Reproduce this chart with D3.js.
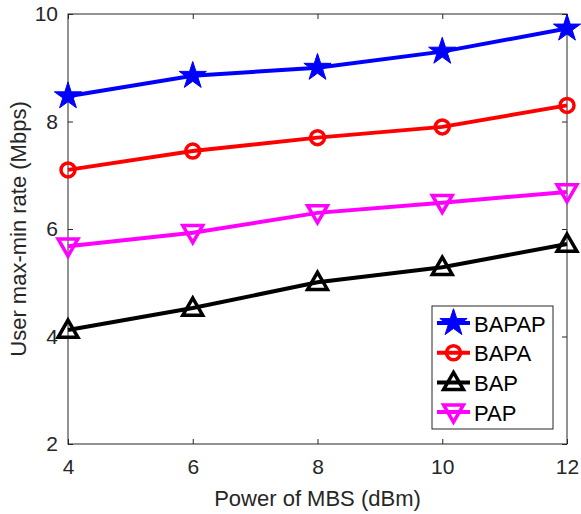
<!DOCTYPE html>
<html>
<head>
<meta charset="utf-8">
<script src="https://cdn.jsdelivr.net/npm/d3@7"></script>
<style>
body { margin: 0; background: #fff; }
text { font-family: Arial, "Liberation Sans", Helvetica, sans-serif; }
</style>
</head>
<body>
<div id="chart"></div>
<script>
var powers = [4, 6, 8, 10, 12];
var xTicks = [4, 6, 8, 10, 12];
var yTicks = [2, 4, 6, 8, 10];
var names = ["BAPAP", "BAPA", "BAP", "PAP"];
var bapap = [8.47, 8.85, 9.0, 9.3, 9.73];
var bapa = [7.1, 7.45, 7.7, 7.9, 8.3];
var bap = [4.12, 4.53, 5.01, 5.29, 5.72];
var pap = [5.68, 5.93, 6.3, 6.49, 6.69];

var series = [
  {name: names[0], values: bapap, color: "#0000ff", marker: "star"},
  {name: names[1], values: bapa, color: "#ff0000", marker: "circle"},
  {name: names[2], values: bap, color: "#000000", marker: "up"},
  {name: names[3], values: pap, color: "#ff00ff", marker: "down"}
];

var W = 581, H = 514;
var m = {left: 68, top: 14, right: 14, bottom: 70};

var svg = d3.select("#chart").append("svg").attr("width", W).attr("height", H);

var x = d3.scaleLinear().domain([4, 12]).range([m.left, W - m.right]);
var y = d3.scaleLinear().domain([2, 10]).range([H - m.bottom, m.top]);

var axisColor = "#262626";

// box
svg.append("rect")
  .attr("x", x(4)).attr("y", y(10))
  .attr("width", x(12) - x(4)).attr("height", y(2) - y(10))
  .attr("fill", "none").attr("stroke", axisColor).attr("stroke-width", 1);

function styleAxis(g) {
  g.select(".domain").remove();
  g.selectAll(".tick line").attr("stroke", axisColor);
  g.selectAll(".tick text").attr("fill", axisColor).style("font-size", "21px");
}

svg.append("g").attr("transform", "translate(0," + y(2) + ")")
  .call(d3.axisBottom(x).tickValues(xTicks).tickSizeInner(-5).tickPadding(15).tickFormat(d3.format("d")))
  .call(styleAxis);
svg.append("g").attr("transform", "translate(0," + y(10) + ")")
  .call(d3.axisTop(x).tickValues(xTicks).tickSizeInner(-5).tickFormat(""))
  .call(styleAxis);
svg.append("g").attr("transform", "translate(" + x(4) + ",0)")
  .call(d3.axisLeft(y).tickValues(yTicks).tickSizeInner(-5).tickPadding(10).tickFormat(d3.format("d")))
  .call(styleAxis);
svg.append("g").attr("transform", "translate(" + x(12) + ",0)")
  .call(d3.axisRight(y).tickValues(yTicks).tickSizeInner(-5).tickFormat(""))
  .call(styleAxis);

svg.append("text")
  .attr("x", (x(4) + x(12)) / 2).attr("y", 506)
  .attr("text-anchor", "middle").attr("fill", axisColor)
  .style("font-size", "22px")
  .text("Power of MBS (dBm)");

svg.append("text")
  .attr("transform", "translate(26," + ((y(2) + y(10)) / 2) + ") rotate(-90)")
  .attr("text-anchor", "middle").attr("fill", axisColor)
  .style("font-size", "22px")
  .text("User max-min rate (Mbps)");

var line = d3.line().x(function(d, i) { return x(powers[i]); }).y(function(d) { return y(d); });

// markers are hollow like matlab: the line shows through them
function drawMarker(g, type, color) {
  if (type == "star") {
    g.append("path").attr("d", d3.symbol(d3.symbolStar, 230)())
      .attr("fill", color).attr("stroke", color).attr("stroke-width", 1);
  } else if (type == "circle") {
    g.append("circle").attr("r", 7)
      .attr("fill", "none").attr("stroke", color).attr("stroke-width", 3.5);
  } else {
    var p = d3.symbol(d3.symbolTriangle, 170)();
    g.append("path").attr("d", p)
      .attr("transform", (type == "down" ? "rotate(180)" : "") + " translate(0,1.5)")
      .attr("fill", "none").attr("stroke", color).attr("stroke-width", 3.5);
  }
}

series.forEach(function(s) {
  svg.append("path").datum(s.values)
    .attr("d", line).attr("fill", "none")
    .attr("stroke", s.color).attr("stroke-width", 4);
  s.values.forEach(function(v, i) {
    var g = svg.append("g").attr("transform", "translate(" + x(powers[i]) + "," + y(v) + ")");
    drawMarker(g, s.marker, s.color);
  });
});

// legend
var lg = svg.append("g");
lg.append("rect").attr("x", 432).attr("y", 306).attr("width", 121).attr("height", 123)
  .attr("fill", "#fff").attr("stroke", axisColor).attr("stroke-width", 1);
series.forEach(function(s, i) {
  var yy = 323 + i * 29.7;
  lg.append("line").attr("x1", 437).attr("x2", 470).attr("y1", yy).attr("y2", yy)
    .attr("stroke", s.color).attr("stroke-width", 4);
  var g = lg.append("g").attr("transform", "translate(453.5," + yy + ")");
  drawMarker(g, s.marker, s.color);
  lg.append("text").attr("x", 474).attr("y", yy + 8.5)
    .attr("fill", "#000").style("font-size", "22px").text(s.name);
});
</script>
</body>
</html>
